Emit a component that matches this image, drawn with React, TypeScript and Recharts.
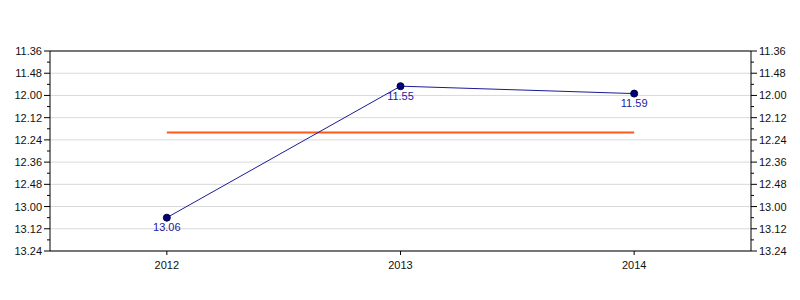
import React from 'react';
import { LineChart, Line, XAxis, YAxis, CartesianGrid, LabelList, ReferenceLine } from 'recharts';

const years = ['2012', '2013', '2014'];
const times = ['13.06', '11.55', '11.59'];
const avgTime = '12.20';
const tickLabels = ['11.36', '11.48', '12.00', '12.12', '12.24', '12.36', '12.48', '13.00', '13.12', '13.24'];

// "m.ss" -> seconds
const toSec = (s: string) => {
  const [m, sec] = s.split('.');
  return Number(m) * 60 + Number(sec);
};
const fmt = (v: number) => `${Math.floor(v / 60)}.${String(v % 60).padStart(2, '0')}`;

const majorTicks = tickLabels.map(toSec);
const allTicks: number[] = [];
majorTicks.forEach((t, i) => {
  allTicks.push(t);
  if (i < majorTicks.length - 1) allTicks.push((t + majorTicks[i + 1]) / 2);
});
const domain = [majorTicks[0], majorTicks[majorTicks.length - 1]];

const data = years.map((year, i) => ({
  year,
  time: toSec(times[i]),
  avg: toSec(avgTime),
}));

const font = { fontFamily: '"Liberation Sans", Arial, sans-serif', fontSize: 11 };

const SideTick = ({ x, y, payload, side }: any) => {
  const major = majorTicks.includes(payload.value);
  const len = major ? 6 : 3;
  const dir = side === 'left' ? -1 : 1;
  return (
    <g>
      <line x1={x} x2={x + dir * len} y1={y} y2={y} stroke="#000" />
      {major && (
        <text
          x={x + dir * 8}
          y={y}
          dy={4}
          textAnchor={side === 'left' ? 'end' : 'start'}
          fill="#111"
          style={font}
        >
          {fmt(payload.value)}
        </text>
      )}
    </g>
  );
};

const App = () => {
  return (
    <div style={{ margin: -8 }}>
      <LineChart width={800} height={300} data={data} margin={{ top: 51, right: 0, bottom: 0, left: 0 }}>
        <CartesianGrid
          yAxisId="left"
          vertical={false}
          horizontalValues={majorTicks}
          stroke="#d9d9d9"
        />
        <XAxis
          dataKey="year"
          scale="band"
          height={49}
          tickSize={4}
          tickMargin={6}
          stroke="#000"
          tick={{ ...font, fill: '#111' }}
        />
        <YAxis
          yAxisId="left"
          width={50}
          domain={domain}
          reversed
          allowDataOverflow
          ticks={allTicks}
          interval={0}
          tickSize={0}
          tickMargin={0}
          tickLine={false}
          stroke="#000"
          tick={<SideTick side="left" />}
        />
        <YAxis
          yAxisId="right"
          orientation="right"
          width={49}
          domain={domain}
          reversed
          allowDataOverflow
          ticks={allTicks}
          interval={0}
          tickSize={0}
          tickMargin={0}
          tickLine={false}
          stroke="#000"
          tick={<SideTick side="right" />}
        />
        <ReferenceLine yAxisId="left" y={domain[0]} stroke="#000" />
        <Line
          yAxisId="left"
          dataKey="avg"
          stroke="#ff5a1a"
          strokeWidth={2}
          dot={false}
          isAnimationActive={false}
        />
        <Line
          yAxisId="left"
          dataKey="time"
          stroke="#1a1a99"
          strokeWidth={1}
          dot={{ r: 3.5, fill: '#000080', stroke: '#000033', strokeWidth: 1 }}
          isAnimationActive={false}
        >
          <LabelList dataKey="time" position="bottom" offset={6} formatter={(v: any) => fmt(Number(v))} fill="#1a1aa0" style={font} />
        </Line>
      </LineChart>
    </div>
  );
};

export default App;
